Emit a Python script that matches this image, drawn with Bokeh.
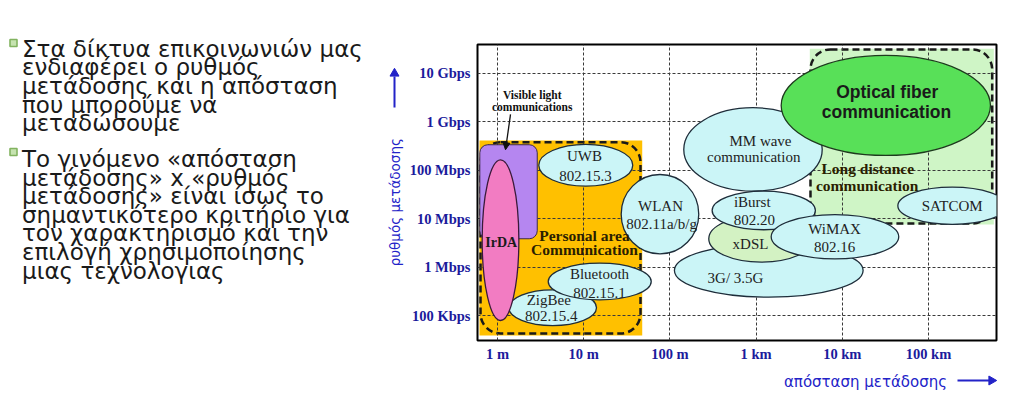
import math
from bokeh.plotting import figure
from bokeh.models import Range1d, FixedTicker, ColumnDataSource, Arrow, NormalHead
from bokeh.layouts import row, column
from bokeh.embed import file_html
from bokeh.resources import INLINE
from bokeh.core.properties import value

# ---------------- data ----------------
# axes are in decades: x = log10(distance in m), y = log10(rate in bps)
x_ticks = [0, 1, 2, 3, 4, 5]
x_tick_labels = ["1 m", "10 m", "100 m", "1 km", "10 km", "100 km"]
y_ticks = [5, 6, 7, 8, 9, 10]
y_tick_labels = ["100 Kbps", "1 Mbps", "10 Mbps", "100 Mbps", "1 Gbps", "10 Gbps"]

# technology ellipses (drawing order)
tech_names = ["UWB", "ZigBee", "Bluetooth", "IrDA", "3G", "WLAN", "MM wave",
              "Optical fiber", "xDSL", "iBurst", "WiMAX", "SATCOM"]
tech_dist = [1.024, 0.640, 1.186, 0.035, 3.147, 1.885, 2.964, 4.505, 3.060, 3.089, 3.915, 5.275]
tech_rate = [8.103, 5.167, 5.707, 6.559, 5.934, 7.095, 8.429, 9.336, 6.588, 7.171, 6.631, 7.268]
tech_dist_span = [1.090, 1.017, 1.195, 0.426, 2.189, 0.900, 1.606, 2.428, 1.218, 1.198, 1.480, 1.261]
tech_rate_span = [0.860, 0.736, 0.757, 3.313, 1.101, 1.635, 1.720, 2.062, 0.963, 0.796, 0.913, 0.769]
tech_kind = ["wireless", "wireless", "wireless", "irda", "wireless", "wireless", "wireless",
             "fiber", "wired", "wireless", "wireless", "wireless"]

# regions: [left, right, bottom, top] in decades
pan_region = [-0.209, 1.679, 4.594, 8.614]
pan_outline = [-0.197, 1.659, 4.635, 8.579]
long_region = [3.623, 5.758, 6.882, 10.505]
long_outline = [3.631, 5.739, 6.903, 10.491]
vlc_region = [-0.205, 0.461, 6.588, 8.526]

# text labels inside the chart
plain_text = ["UWB", "802.15.3", "ZigBee", "802.15.4", "Bluetooth", "802.15.1",
              "WLAN", "802.11a/b/g", "MM wave", "communication", "iBurst", "802.20",
              "xDSL", "WiMAX", "802.16", "3G/ 3.5G", "SATCOM"]
plain_x = [1.009, 1.021, 0.595, 0.623, 1.183, 1.183, 1.891, 1.903, 3.051, 2.973,
           2.955, 2.981, 2.935, 3.910, 3.910, 2.761, 5.275]
plain_y = [8.285, 7.878, 5.330, 4.992, 5.866, 5.474, 7.260, 6.897, 8.600, 8.270,
           7.342, 6.965, 6.470, 6.794, 6.414, 5.784, 7.268]

bold_text = ["Personal area", "Communication", "Long distance", "communication"]
bold_x = [1.009, 1.009, 4.296, 4.289]
bold_y = [6.656, 6.361, 8.031, 7.687]

fiber_text = ["Optical fiber", "communication"]
fiber_x = [4.521, 4.513]
fiber_y = [9.610, 9.198]

vlc_text = ["Visible light", "communications"]
vlc_x = [0.403, 0.403]
vlc_y = [9.561, 9.301]

y_title = "ρυθμός μετάδοσης"
x_title = "απόσταση μετάδοσης"

bullet_lines_1 = ["Στα δίκτυα επικοινωνιών μας", "ενδιαφέρει ο ρυθμός",
                  "μετάδοσης και η απόσταση", "που μπορούμε να", "μεταδώσουμε"]
bullet_lines_2 = ["Το γινόμενο «απόσταση", "μετάδοσης» x «ρυθμός",
                  "μετάδοσης» είναι ίσως το", "σημαντικότερο κριτήριο για",
                  "τον χαρακτηρισμό και την", "επιλογή χρησιμοποίησης",
                  "μιας τεχνολογιας"]

axis_blue = "#2323c8"


def blank(width, height, x0, x1, y0, y1):
    f = figure(width=width, height=height, x_range=Range1d(x0, x1), y_range=Range1d(y1, y0),
               output_backend="svg", toolbar_location=None, min_border=0,
               x_axis_location=None, y_axis_location=None)
    f.title = None
    f.grid.visible = False
    f.outline_line_color = None
    return f


# ---------------- left text panel (page pixel coordinates) ----------------
pt = blank(405, 366, 0, 405, 0, 366)
line_step = 18.6
ys1 = [48.3 + i * line_step for i in range(len(bullet_lines_1))]
ys2 = [158.4 + i * line_step for i in range(len(bullet_lines_2))]
pt.text(x=[21.5] * (len(ys1) + len(ys2)), y=ys1 + ys2, text=bullet_lines_1 + bullet_lines_2,
        text_font=value("DejaVu Sans"), text_font_size="23px", text_color="#1a1a1a",
        text_align="left", text_baseline="alphabetic")
pt.scatter(x=[13, 13], y=[42.5, 151.5], marker="square", size=7,
           fill_color="#c6e3b0", line_color="#82b360", line_width=1.6)
pt.text(x=[394], y=[201.7], text=[y_title], angle=math.pi / 2,
        text_font=value("DejaVu Sans"), text_font_size="13.5px", text_color=axis_blue,
        text_align="center", text_baseline="middle")
pt.segment(x0=[394], y0=[107], x1=[394], y1=[76], line_color=axis_blue, line_width=2)
pt.scatter(x=[394], y=[73], marker="triangle", size=9, fill_color=axis_blue,
           line_color=axis_blue)

# ---------------- chart ----------------
p = figure(width=619, height=366, x_range=Range1d(-0.232, 5.789), y_range=Range1d(4.491, 10.592),
           output_backend="svg", toolbar_location=None,
           min_border_left=72, min_border_right=28, min_border_top=44, min_border_bottom=26)
p.title = None
p.xaxis.ticker = FixedTicker(ticks=x_ticks)
p.yaxis.ticker = FixedTicker(ticks=y_ticks)
p.xaxis.major_label_overrides = {t: l for t, l in zip(x_ticks, x_tick_labels)}
p.yaxis.major_label_overrides = {t: l for t, l in zip(y_ticks, y_tick_labels)}
for ax in (p.xaxis, p.yaxis):
    ax.axis_line_color = None
    ax.major_tick_line_color = None
    ax.minor_tick_line_color = None
    ax.major_tick_out = 0
    ax.major_tick_in = 0
    ax.major_label_text_font = "Liberation Serif"
    ax.major_label_text_font_style = "bold"
    ax.major_label_text_font_size = "14.5px"
    ax.major_label_text_color = "#1b1b9c"
p.xaxis.major_label_standoff = 5
p.yaxis.major_label_standoff = 7
p.grid.grid_line_color = "#3a3a3a"
p.grid.grid_line_dash = "3 2"
p.grid.grid_line_width = 1
p.outline_line_color = "black"
p.outline_line_width = 2

# background regions (under the grid)
r1 = p.quad(left=[pan_region[0]], right=[pan_region[1]], bottom=[pan_region[2]], top=[pan_region[3]],
            fill_color="#ffc000", line_color=None)
r1.level = "image"
r2 = p.quad(left=[long_region[0]], right=[long_region[1]], bottom=[long_region[2]], top=[long_region[3]],
            fill_color="#cff5c6", line_color=None)
r2.level = "image"
r3 = p.quad(left=[pan_outline[0]], right=[pan_outline[1]], bottom=[pan_outline[2]], top=[pan_outline[3]],
            fill_color=None, line_color="#1a1a1a", line_width=2.5, line_dash="7 4", border_radius=20)
r3.level = "underlay"
r4 = p.quad(left=[long_outline[0]], right=[long_outline[1]], bottom=[long_outline[2]], top=[long_outline[3]],
            fill_color=None, line_color="#1a1a1a", line_width=2.5, line_dash="7 4", border_radius=20)
r4.level = "underlay"

# visible light communications box
p.quad(left=[vlc_region[0]], right=[vlc_region[1]], bottom=[vlc_region[2]], top=[vlc_region[3]],
       fill_color="#b586f0", line_color="#3a2a4a", line_width=1, border_radius=8)

kind_fill = {"wireless": "#cbf5f7", "irda": "#f27cc2", "fiber": "#58e058", "wired": "#d3f2c3"}
kind_line = {"wireless": "#1e2d3a", "irda": "#3a1a3a", "fiber": "#1e3a1e", "wired": "#1e2d3a"}
src = ColumnDataSource(dict(
    x=tech_dist, y=tech_rate, w=tech_dist_span, h=tech_rate_span,
    fill=[kind_fill[k] for k in tech_kind], line=[kind_line[k] for k in tech_kind]))
p.ellipse(x="x", y="y", width="w", height="h", fill_color="fill", line_color="line",
          line_width=1.3, source=src)

# texts
p.text(x=plain_x, y=plain_y, text=plain_text, text_font=value("Liberation Serif"),
       text_font_size="15px", text_color="#222222", text_align="center", text_baseline="middle")
p.text(x=bold_x, y=bold_y, text=bold_text, text_font=value("Liberation Serif"),
       text_font_style="bold", text_font_size="15.5px", text_color="#2a1e00",
       text_align="center", text_baseline="middle")
p.text(x=fiber_x, y=fiber_y, text=fiber_text, text_font=value("Liberation Sans"),
       text_font_style="bold", text_font_size="17.5px", text_color="#1a1a1a",
       text_align="center", text_baseline="middle")
p.text(x=[0.043], y=[6.518], text=["IrDA"], text_font=value("Liberation Serif"),
       text_font_style="bold", text_font_size="14px", text_color="#1a1a1a",
       text_align="center", text_baseline="middle")
p.text(x=vlc_x, y=vlc_y, text=vlc_text,
       text_font=value("Liberation Serif"), text_font_style="bold", text_font_size="11.5px",
       text_color="#111111", text_align="center", text_baseline="middle")
p.add_layout(Arrow(x_start=0.151, y_start=9.151, x_end=0.093, y_end=8.423,
                   line_color="#111111", line_width=1.3,
                   end=NormalHead(size=7, fill_color="#111111", line_color="#111111")))

# ---------------- x title strip across the page (page pixel coordinates) ----------------
pb = blank(1024, 32, 0, 1024, 366, 398)
pb.text(x=[865], y=[381.5], text=[x_title], text_font=value("DejaVu Sans"),
        text_font_size="15px", text_color=axis_blue, text_align="center", text_baseline="middle")
pb.segment(x0=[957], y0=[380], x1=[989], y1=[380], line_color=axis_blue, line_width=2)
pb.scatter(x=[991], y=[380], marker="triangle", angle=-math.pi / 2, size=9,
           fill_color=axis_blue, line_color=axis_blue)

# the text panel is wrapped so that its frame is not aligned with the chart frame
layout = column(row(column(pt), p), pb)
open("out.html", "w").write(file_html(layout, INLINE))
